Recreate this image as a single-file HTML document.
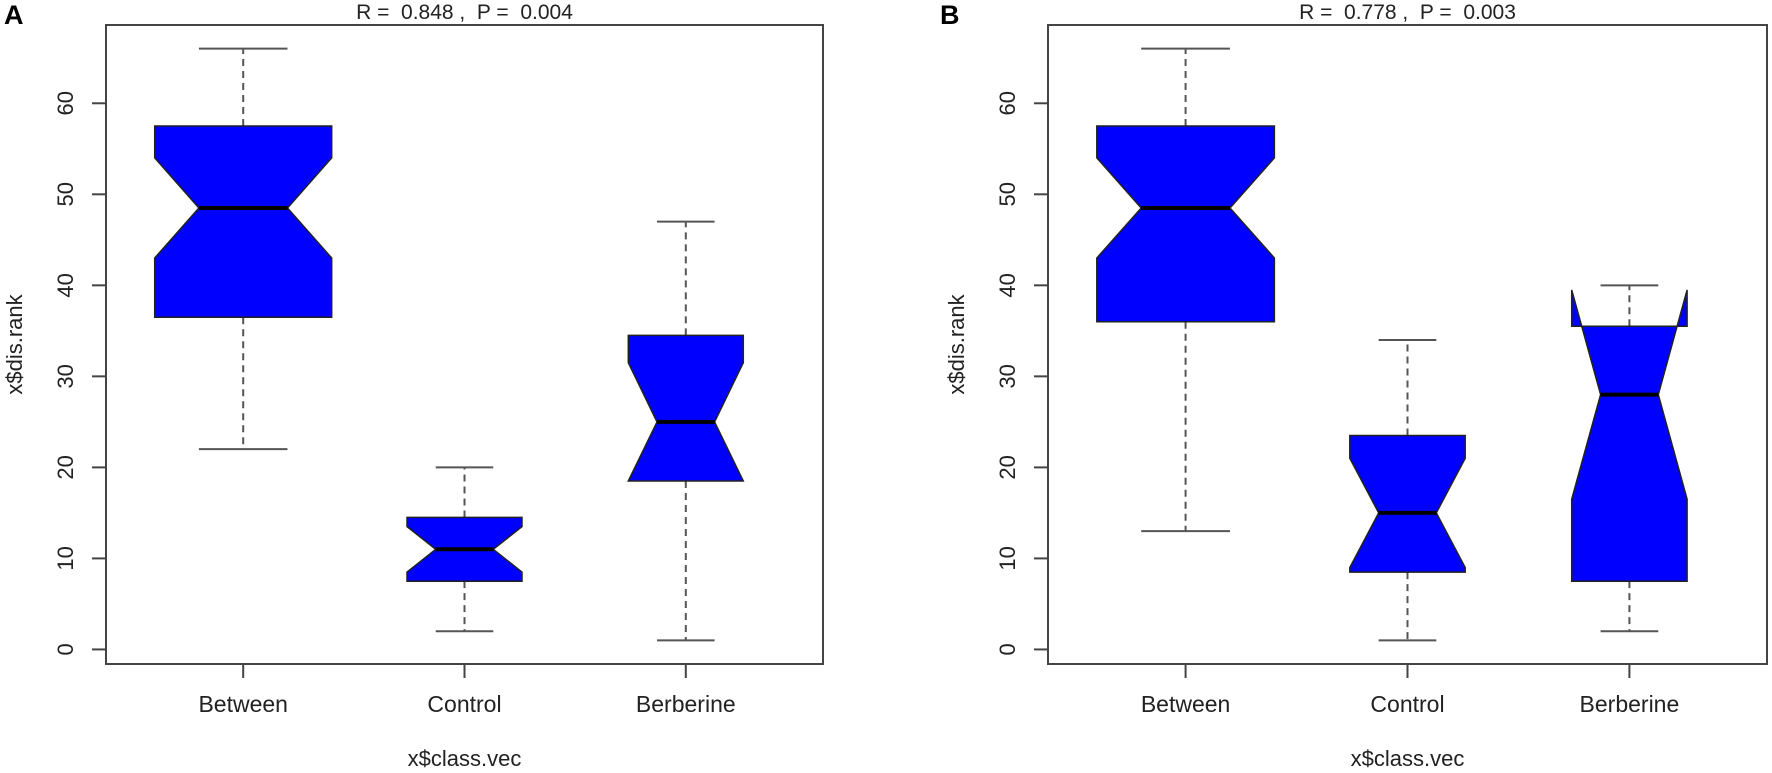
<!DOCTYPE html>
<html><head><meta charset="utf-8"><style>
html,body{margin:0;padding:0;background:#fff;}
svg{display:block;font-family:"Liberation Sans",sans-serif;}
</style></head><body>
<svg id="chart" width="1772" height="773" viewBox="0 0 1772 773" xmlns="http://www.w3.org/2000/svg"></svg>
<script>
const categories = ["Between","Control","Berberine"];
const yTicks = [0,10,20,30,40,50,60];
const panelLabels = ["A","B"];
const panelTitles = ["R =  0.848 ,  P =  0.004","R =  0.778 ,  P =  0.003"];
// per panel: [min, Q1, median, Q3, max, notchLow, notchHigh]
const panelAStats = [
  [22, 36.5, 48.5, 57.5, 66, 43, 54],
  [2, 7.5, 11, 14.5, 20, 8.5, 13.5],
  [1, 18.5, 25, 34.5, 47, 18.5, 31.5]
];
const panelBStats = [
  [13, 36, 48.5, 57.5, 66, 43, 54],
  [1, 8.5, 15, 23.5, 34, 9, 21],
  [2, 7.5, 28, 35.5, 40, 16.5, 39.5]
];
const boxWidths = [0.8, 0.52, 0.52];

const svgEl = document.getElementById('chart');
const NS = 'http://www.w3.org/2000/svg';
function mk(tag, attrs, parent){
  const e = document.createElementNS(NS, tag);
  for (const k in attrs) e.setAttribute(k, attrs[k]);
  (parent||svgEl).appendChild(e);
  return e;
}
const panels = [
  {left:106,right:823,labelX:4,stats:panelAStats},
  {left:1048,right:1767,labelX:940,stats:panelBStats}
];
const plotTop=25, plotBottom=664, yMin=-1.6, yMax=68.6;
function yS(v){ return plotBottom - (v - yMin)/(yMax - yMin)*(plotBottom-plotTop); }

panels.forEach((p, pi) => {
  const xS = v => p.left + (v - 0.38)/(3.62-0.38)*(p.right-p.left);
  const g = mk('g', {});
  
  
  const lab = mk('text', {x:p.labelX, y:24, 'font-size':27, 'font-weight':'bold', fill:'#000'}, g);
  
  
  lab.textContent = panelLabels[pi];
  const t = mk('text', {x:(p.left+p.right)/2, y:19, 'font-size':21, 'text-anchor':'middle', fill:'#222', style:'white-space:pre'}, g);
  
  
  t.textContent = panelTitles[pi];
  const frame = mk('rect', {x:p.left, y:plotTop, width:p.right-p.left, height:plotBottom-plotTop, fill:'none', stroke:'#444', 'stroke-width':2}, g);
  
  
  yTicks.forEach(v => {
    const y = yS(v);
    const tk = mk('line', {x1:p.left-14, x2:p.left, y1:y, y2:y, stroke:'#444', 'stroke-width':2}, g);
    
    
    const tl = mk('text', {x:0, y:0, 'font-size':22, 'text-anchor':'middle', fill:'#222', transform:`translate(${p.left-33},${y}) rotate(-90)`}, g);
    
    
    tl.textContent = v;
  });
  const yt = mk('text', {x:0, y:0, 'font-size':22, 'text-anchor':'middle', fill:'#222', transform:`translate(${p.left-84},${(plotTop+plotBottom)/2}) rotate(-90)`}, g);
  
  
  yt.textContent = 'x$dis.rank';
  const xt = mk('text', {x:(p.left+p.right)/2, y:766, 'font-size':22, 'text-anchor':'middle', fill:'#222'}, g);
  
  
  xt.textContent = 'x$class.vec';
  categories.forEach((c, i) => {
    const cx = xS(i+1);
    const s = p.stats[i];
    const hw = (xS(1+boxWidths[i]/2) - xS(1));
    const wn = hw/2;
    const tk = mk('line', {x1:cx, x2:cx, y1:plotBottom, y2:plotBottom+14, stroke:'#444', 'stroke-width':2}, g);
    
    
    const tl = mk('text', {x:cx, y:712, 'font-size':23, 'text-anchor':'middle', fill:'#222'}, g);
    
    
    tl.textContent = c;
    const bg = mk('g', {}, g);
    
    
    const mn=s[0], q1=s[1], md=s[2], q3=s[3], mx=s[4], nl=s[5], nh=s[6];
    [[q3,mx],[q1,mn]].forEach(pair => {
      const a = pair[0], b = pair[1];
      const w = mk('line', {x1:cx, x2:cx, y1:yS(a), y2:yS(b), stroke:'#555', 'stroke-width':2, 'stroke-dasharray':'7,5'}, bg);
      
      
      const cap = mk('line', {x1:cx-hw/2, x2:cx+hw/2, y1:yS(b), y2:yS(b), stroke:'#555', 'stroke-width':2}, bg);
      
      
    });
    const xs = [cx-hw,cx-hw,cx-wn,cx-hw,cx-hw,cx+hw,cx+hw,cx+wn,cx+hw,cx+hw];
    const ys = [q1,nl,md,nh,q3,q3,nh,md,nl,q1].map(yS);
    const pts = xs.map((x,k)=>x.toFixed(1)+','+ys[k].toFixed(1)).join(' ');
    const poly = mk('polygon', {points:pts, fill:'#0000ff', stroke:'#222', 'stroke-width':1.5}, bg);
    
    
    const med = mk('line', {x1:cx-wn, x2:cx+wn, y1:yS(md), y2:yS(md), stroke:'#000', 'stroke-width':4}, bg);
    
    
  });
});
</script>
</body></html>
